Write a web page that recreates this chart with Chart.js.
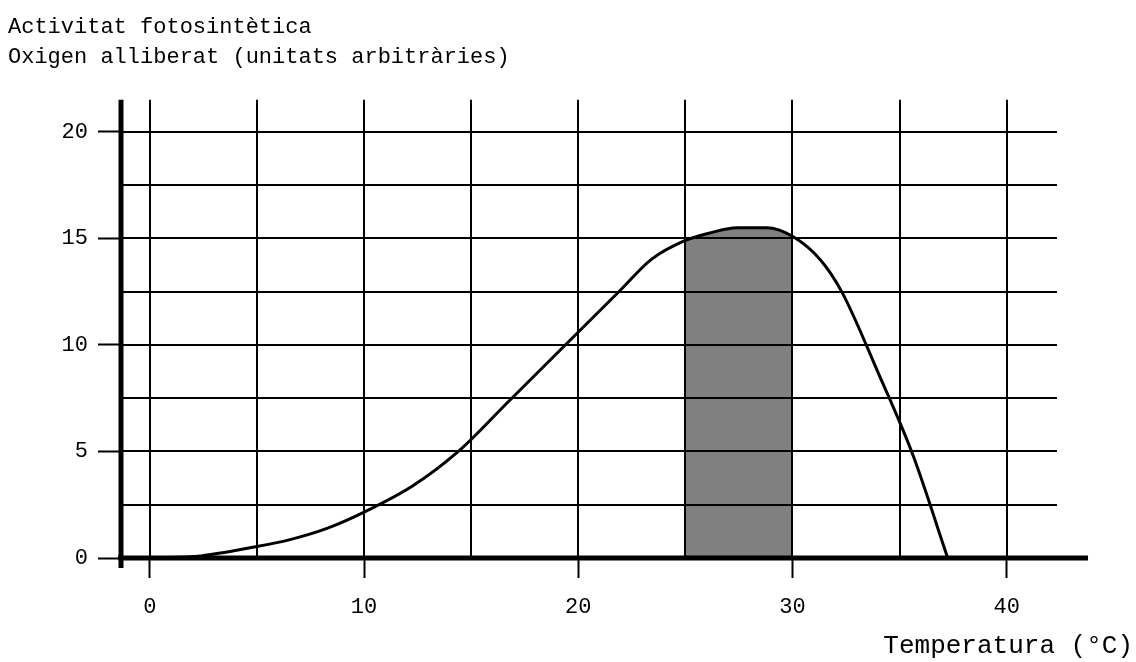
<!DOCTYPE html>
<html>
<head>
<meta charset="utf-8">
<script src="https://cdn.jsdelivr.net/npm/chart.js@4"></script>
<style>
  body { margin: 0; background: #fff; }
</style>
</head>
<body>
<canvas id="chart" width="1136" height="662"></canvas>
<script>
// curve: temperature (°C) and oxygen released
const tempC  = [0, 2.4, 4.8, 6.5, 8.3, 10.1, 12.3, 14.4, 16.7, 19.9, 22, 23.4, 25, 26.2, 27.4, 28.8, 30, 31.3, 32.3, 34, 35.6, 37.25];
const oxygen = [0, 0.1, 0.5, 0.85, 1.4, 2.2, 3.4, 5, 7.3, 10.5, 12.6, 14.0, 14.9, 15.27, 15.5, 15.5, 15.1, 14.0, 12.5, 8.7, 4.9, 0];

// shaded optimum band
const optimumRange = [25, 30];

// tick / grid values
const xTicks = [0, 5, 10, 15, 20, 25, 30, 35, 40];
const yTicks = [0, 2.5, 5, 7.5, 10, 12.5, 15, 17.5, 20];
const xLabelStep = 10;
const yLabelStep = 5;

const titleLines = ['Activitat fotosintètica', 'Oxigen alliberat (unitats arbitràries)'];
const xTitle = 'Temperatura (°C)';

// where the axes and grid stop (in data units)
const xMin = -1.3, xMax = 45.9, xAxisEnd = 43.8, gridRight = 42.35;
const yMin = 0, yMax = 21.5;

const curve = tempC.map((t, i) => ({ x: t, y: oxygen[i] }));
const band = curve.filter(p => p.x >= optimumRange[0] && p.x <= optimumRange[1]);

Chart.defaults.font.family = "'Liberation Mono', 'Courier New', monospace";
Chart.defaults.font.size = 22;
Chart.defaults.color = '#000';

// draws the grid over the grey band, then the thick axes
const paperGrid = {
    id: 'paperGrid',
    afterDatasetsDraw(chart) {
        const { ctx, chartArea } = chart;
        const x = chart.scales.x, y = chart.scales.y;
        const line = (x1, y1, x2, y2) => {
            ctx.beginPath();
            ctx.moveTo(x1, y1);
            ctx.lineTo(x2, y2);
            ctx.stroke();
        };
        ctx.save();
        ctx.strokeStyle = '#000';
        ctx.lineWidth = 2;
        const right = x.getPixelForValue(gridRight);
        yTicks.forEach(v => {
            const py = Math.round(y.getPixelForValue(v));
            line(chartArea.left, py, right, py);
        });
        xTicks.forEach(v => {
            const px = Math.round(x.getPixelForValue(v));
            line(px, chartArea.top, px, chartArea.bottom);
        });
        // axes
        ctx.lineWidth = 5;
        line(chartArea.left - 1, chartArea.top, chartArea.left - 1, chartArea.bottom + 10);
        line(chartArea.left - 4, chartArea.bottom, x.getPixelForValue(xAxisEnd), chartArea.bottom);
        ctx.restore();
    }
};

new Chart(document.getElementById('chart'), {
    type: 'line',
    data: {
        datasets: [
            {
                data: curve,
                borderColor: '#000',
                borderWidth: 3,
                pointRadius: 0,
                fill: false,
                cubicInterpolationMode: 'monotone'
            },
            {
                data: band,
                borderWidth: 0,
                borderColor: 'rgba(0,0,0,0)',
                backgroundColor: '#808080',
                pointRadius: 0,
                fill: 'origin',
                cubicInterpolationMode: 'monotone'
            }
        ]
    },
    options: {
        responsive: false,
        animation: false,
        layout: { padding: { left: 8, right: 3, top: 0, bottom: 0 } },
        plugins: {
            legend: { display: false },
            tooltip: { enabled: false },
            title: {
                display: true,
                text: titleLines,
                align: 'start',
                color: '#000',
                font: { size: 22, weight: 'normal', lineHeight: 1.36 },
                padding: { top: 12, bottom: 28 }
            }
        },
        scales: {
            x: {
                type: 'linear',
                min: xMin,
                max: xMax,
                afterBuildTicks: s => { s.ticks = xTicks.map(v => ({ value: v })); },
                afterFit: s => { s.height = 104; },
                border: { display: false },
                grid: {
                    drawOnChartArea: false,
                    tickLength: 20,
                    tickWidth: 2,
                    tickColor: c => (c.tick && c.tick.value % xLabelStep === 0) ? '#000' : 'rgba(0,0,0,0)'
                },
                ticks: {
                    padding: 16,
                    maxRotation: 0,
                    autoSkip: false,
                    callback: v => v % xLabelStep === 0 ? String(v) : ''
                },
                title: {
                    display: true,
                    text: xTitle,
                    align: 'end',
                    font: { size: 26 },
                    padding: { top: 0, bottom: 0 }
                }
            },
            y: {
                type: 'linear',
                min: yMin,
                max: yMax,
                afterBuildTicks: s => { s.ticks = yTicks.map(v => ({ value: v })); },
                afterFit: s => { s.width = 114; },
                border: { display: false },
                grid: {
                    drawOnChartArea: false,
                    tickLength: 24,
                    tickWidth: 2,
                    tickColor: c => (c.tick && c.tick.value % yLabelStep === 0) ? '#000' : 'rgba(0,0,0,0)'
                },
                ticks: {
                    padding: 10,
                    autoSkip: false,
                    callback: v => v % yLabelStep === 0 ? String(v) : ''
                }
            }
        }
    },
    plugins: [paperGrid]
});
</script>
</body>
</html>
